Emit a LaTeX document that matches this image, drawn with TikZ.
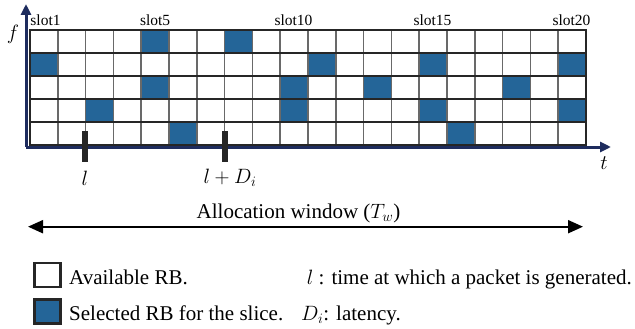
\documentclass[tikz,border=0pt]{standalone}
\usepackage{fontspec}
\setmainfont{Liberation Serif}
\usetikzlibrary{arrows.meta}
\definecolor{rbblue}{RGB}{36,101,152}
\definecolor{axisnavy}{RGB}{30,44,94}
\definecolor{gridgray}{RGB}{105,105,105}
\begin{document}
\begin{tikzpicture}[x=1pt,y=-1pt,
  gridv/.style={draw=gridgray,line width=1.6pt},
  gridh/.style={draw=black!85,line width=1.6pt},
  border/.style={draw=black!85,line width=2pt},
  axisline/.style={draw=axisnavy,line width=3pt,-{Triangle[length=11pt,width=10pt]}},
  tickbar/.style={fill=black!85,draw=none,minimum width=6pt,minimum height=31pt,inner sep=0pt},
  slotlbl/.style={font=\fontsize{15.5}{17}\selectfont,anchor=base,inner sep=0pt},
  mlbl/.style={font=\fontsize{21}{24}\selectfont,inner sep=0pt},
  txt/.style={font=\fontsize{21}{24}\selectfont,inner sep=0pt},
  legbox/.style={draw=black!85,line width=2.5pt,minimum width=26pt,minimum height=24pt,inner sep=0pt},
  window/.style={line width=2pt,{Triangle[length=15pt,width=13pt]}-{Triangle[length=15pt,width=13pt]}}
]
\useasboundingbox (0,0) rectangle (635,329);
% selected RBs
\foreach \c/\r in {5/1,8/1,1/2,11/2,15/2,20/2,5/3,10/3,13/3,18/3,3/4,10/4,15/4,20/4,6/5,16/5}
  \fill[rbblue] ({30+(\c-1)*27.8},{30+(\r-1)*23}) rectangle ++(27.8,23);
% grid
\foreach \i in {1,...,19}
  \draw[gridv] ({30+\i*27.8},30) -- ({30+\i*27.8},145);
\foreach \j in {1,...,4}
  \draw[gridh] (30,{30+\j*23}) -- (586,{30+\j*23});
\draw[border] (30,30) rectangle (586,145);
% axes
\coordinate (origin) at (26,147);
\coordinate (ftip) at (26,4);
\coordinate (ttip) at (611,147);
\draw[axisline] (origin) -- (ftip);
\draw[axisline] (origin) -- (ttip);
\node[mlbl] (f) at (13,34) {$f$};
\node[mlbl] (t) at (604,163) {$t$};
% slot labels
\node[slotlbl] (s1) at (45.5,26) {slot1};
\node[slotlbl] (s5) at (155.1,26) {slot5};
\node[slotlbl] (s10) at (293.5,26) {slot10};
\node[slotlbl] (s15) at (432.5,26) {slot15};
\node[slotlbl] (s20) at (571.5,26) {slot20};
% ticks
\node[tickbar] (bar1) at (85,146.5) {};
\node[tickbar] (bar2) at (224.5,146.5) {};
\node[mlbl] (lbl1) at (85,178) {$l$};
\node[mlbl] (lbl2) at (230,178) {$l+D_i$};
% allocation window
\coordinate (awL) at (28,226.7);
\coordinate (awR) at (583,226.7);
\draw[window] (awL) -- (awR);
\node[txt,anchor=base] (aw) at (298.5,218) {Allocation window ($T_w$)};
% legend
\node[legbox,fill=white] (leg1) at (47.5,275) {};
\node[legbox,fill=rbblue] (leg2) at (47.5,311.5) {};
\node[txt,anchor=base west] (legt1) at (69,284) {Available RB.};
\node[txt,anchor=base west] (legt2) at (69,320) {Selected RB for the slice.};
\node[txt,anchor=base east] (legt3) at (632,284) {$l$ : time at which a packet is generated.};
\node[txt,anchor=base west] (legt4) at (301,320) {$D_i$: latency.};
\end{tikzpicture}
\end{document}
